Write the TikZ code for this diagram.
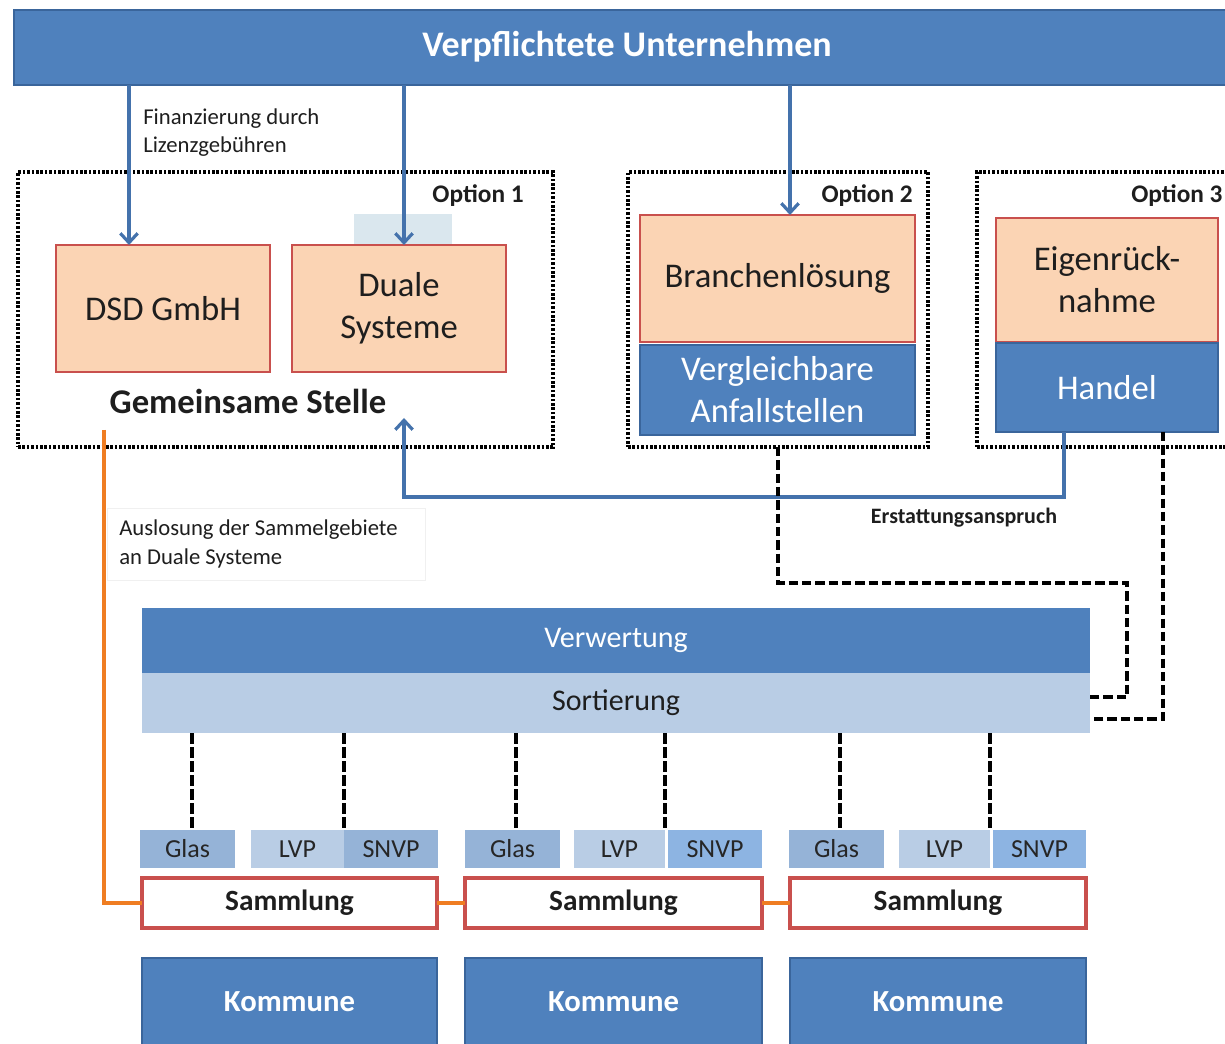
\documentclass[tikz,border=0pt]{standalone}
\usepackage{fontspec}
\setmainfont{Carlito}
\usetikzlibrary{arrows.meta,fit,calc}
\definecolor{ublue}{HTML}{4F81BD}
\definecolor{ubluedark}{HTML}{3A659B}
\definecolor{peach}{HTML}{FBD4B4}
\definecolor{ured}{HTML}{C9504D}
\definecolor{lblue}{HTML}{B9CDE5}
\definecolor{mblue}{HTML}{95B3D7}
\definecolor{sblue}{HTML}{8DB4E2}
\definecolor{arrowblue}{HTML}{4472AC}
\definecolor{uorange}{HTML}{EF7D22}
\definecolor{txt}{HTML}{1E1E1E}
\definecolor{paleblue}{HTML}{DAE7EE}
\begin{document}
\begin{tikzpicture}[x=0.75pt,y=-0.75pt,
  box/.style={inner sep=0pt, outer sep=0pt},
  bluebox/.style={box, fill=ublue, draw=ubluedark, line width=1.8pt},
  peachbox/.style={box, fill=peach, draw=ured, line width=2.2pt},
  optbox/.style={box, draw=black, line width=2.6pt, dash pattern=on 2pt off 1.3pt},
  optlabel/.style={font=\bfseries\fontsize{19}{22}\selectfont, text=txt, inner sep=0pt},
  tx/.style={inner sep=0pt, align=center, text=txt},
  wtx/.style={inner sep=0pt, align=center, text=white},
  bigtext/.style={font=\fontsize{26}{31.5}\selectfont},
  arrowline/.style={draw=arrowblue, line width=2.4pt, -{Straight Barb[length=7pt,width=13pt,line width=2.4pt]}},
  dashline/.style={draw=black, line width=3pt, dash pattern=on 7pt off 3pt},
  vdash/.style={draw=black, line width=2.8pt, dash pattern=on 8pt off 2.5pt},
  orangeline/.style={draw=uorange, line width=2.4pt},
  smalltext/.style={tx, font=\fontsize{19.5}{22}\selectfont, text=black!85},
  sammbox/.style={box, fill=white, draw=ured, line width=2.6pt},
  sammtext/.style={tx, font=\bfseries\fontsize{22}{26}\selectfont},
  kommbox/.style={box, fill=ublue, draw=ubluedark, line width=2.2pt},
  kommtext/.style={wtx, font=\bfseries\fontsize{23}{27}\selectfont},
  note/.style={inner sep=0pt, align=left, text=txt, font=\fontsize{17}{21.75}\selectfont}
]
\clip (0,0) rectangle (1225,1044);
\fill[white] (0,0) rectangle (1225,1044);

% option frames
\node[optbox, fit={(18,172)(553,447)}] (opt1) {};
\node[optbox, fit={(628,172)(928,447)}] (opt2) {};
\node[optbox, fit={(977,172)(1240,447)}] (opt3) {};
\node[optlabel, anchor=east] (ol1) at (524,196) {Option 1};
\node[optlabel, anchor=east] (ol2) at (913,196) {Option 2};
\node[optlabel, anchor=west] (ol3) at (1131,196) {Option 3};

% top bar
\node[bluebox, fit={(14,10)(1240,85)}] (top) {};
\node[wtx, font=\bfseries\fontsize{27}{32}\selectfont] (toptext) at (627,47) {Verpflichtete Unternehmen};

% option 1 contents
\node[box, fill=paleblue, fit={(354,214)(452,245)}] (pale) {};
\node[peachbox, fit={(56,245)(270,372)}] (dsd) {};
\node[tx, bigtext] (dsdt) at (dsd.center) {DSD GmbH};
\node[peachbox, fit={(292,245)(506,372)}] (duale) {};
\node[tx, bigtext] (dualet) at (duale.center) {Duale\\Systeme};
\node[tx, font=\bfseries\fontsize{26}{31}\selectfont] (gs) at (248,401) {Gemeinsame Stelle};

% option 2 contents
\node[peachbox, fit={(640,215)(915,342)}] (branch) {};
\node[tx, bigtext] (brancht) at (branch.center) {Branchenlösung};
\node[bluebox, fit={(640,345)(915,435)}] (vergl) {};
\node[wtx, bigtext] (verglt) at (vergl.center) {Vergleichbare\\Anfallstellen};

% option 3 contents
\node[peachbox, fit={(996,218)(1218,342)}] (eigen) {};
\node[tx, bigtext] (eigent) at (eigen.center) {Eigenrück-\\nahme};
\node[bluebox, fit={(996,343)(1218,432)}] (handel) {};
\node[wtx, bigtext] (handelt) at (handel.center) {Handel};

% arrows from top
\coordinate (a1) at (129,0);
\coordinate (a2) at (404,0);
\coordinate (a3) at (790,0);
\draw[arrowline] (a1 |- top.south) -- (a1 |- dsd.north);
\draw[arrowline] (a2 |- top.south) -- (a2 |- duale.north);
\draw[arrowline] (a3 |- top.south) -- (a3 |- branch.north);
\node[note, anchor=west, font=\fontsize{17}{21}\selectfont] (fin) at (143,133) {Finanzierung durch\\Lizenzgebühren};

% Erstattungsanspruch
\coordinate (e1) at (1064,0);
\coordinate (eb) at (404,497);
\coordinate (gsarrow) at (404,418);
\draw[arrowline] (e1 |- handel.south) |- (eb) -- (gsarrow);
\node[tx, font=\bfseries\fontsize{16.5}{20}\selectfont] (erst) at (964,518) {Erstattungsanspruch};

% Verwertung / Sortierung
\node[box, fill=ublue, fit={(142,608)(1090,673)}] (verw) {};
\node[wtx, font=\fontsize{22.5}{26}\selectfont] (verwt) at (verw.center) {Verwertung};
\node[box, fill=lblue, fit={(142,673)(1090,733)}] (sort) {};
\node[tx, font=\fontsize{22.5}{26}\selectfont] (sortt) at (sort.center) {Sortierung};

% dashed links from options 2 and 3
\coordinate (d1) at (1127,583);
\coordinate (d2) at (1090,697);
\coordinate (h1) at (1163,0);
\coordinate (d3) at (1090,719);
\draw[dashline] (opt2.south) |- (d1) |- (d2);
\draw[dashline] (h1 |- handel.south) |- (d3);

% label box
\node[box, fill=white, draw=black!6, line width=0.6pt, fit={(107,508)(425,580)}] (lblbox) {};
\node[note, anchor=west] (ausl) at (119,544) {Auslosung der Sammelgebiete\\an Duale Systeme};

% fractions
\node[box, fill=mblue, fit={(140,830)(235,868)}] (glas1) {};
\node[box, fill=lblue, fit={(251,830)(344,868)}] (lvp1) {};
\node[box, fill=mblue, fit={(344,830)(438,868)}] (snvp1) {};
\node[box, fill=mblue, fit={(465,830)(560,868)}] (glas2) {};
\node[box, fill=lblue, fit={(574,830)(665,868)}] (lvp2) {};
\node[box, fill=sblue, fit={(668,830)(762,868)}] (snvp2) {};
\node[box, fill=mblue, fit={(789,830)(884,868)}] (glas3) {};
\node[box, fill=lblue, fit={(899,830)(990,868)}] (lvp3) {};
\node[box, fill=sblue, fit={(993,830)(1086,868)}] (snvp3) {};
\foreach \n/\t in {glas1/Glas,lvp1/LVP,snvp1/SNVP,glas2/Glas,lvp2/LVP,snvp2/SNVP,glas3/Glas,lvp3/LVP,snvp3/SNVP}
  \node[smalltext] (\n t) at (\n.center) {\t};

% vertical dashed links
\coordinate (v1) at (192,0);
\coordinate (v3) at (516,0);
\coordinate (v5) at (840,0);
\draw[vdash] (v1 |- sort.south) -- (v1 |- glas1.north);
\draw[vdash] (lvp1.north east |- sort.south) -- (lvp1.north east);
\draw[vdash] (v3 |- sort.south) -- (v3 |- glas2.north);
\draw[vdash] (lvp2.north east |- sort.south) -- (lvp2.north east);
\draw[vdash] (v5 |- sort.south) -- (v5 |- glas3.north);
\draw[vdash] (lvp3.north east |- sort.south) -- (lvp3.north east);

% Sammlung
\node[sammbox, fit={(142,878)(437,928)}] (samm1) {};
\node[sammbox, fit={(465,878)(762,928)}] (samm2) {};
\node[sammbox, fit={(790,878)(1086,928)}] (samm3) {};
\foreach \n in {samm1,samm2,samm3}
  \node[sammtext] (\n t) at (\n.center) {Sammlung};

% orange connections
\coordinate (o1) at (104,430);
\draw[orangeline] (o1) |- (samm1.west);
\draw[orangeline] (samm1.east) -- (samm2.west);
\draw[orangeline] (samm2.east) -- (samm3.west);

% Kommune
\node[kommbox, fit={(142,958)(437,1050)}] (k1) {};
\node[kommbox, fit={(465,958)(762,1050)}] (k2) {};
\node[kommbox, fit={(790,958)(1086,1050)}] (k3) {};
\coordinate (kt1) at (289,1002);
\coordinate (kt2) at (613,1002);
\coordinate (kt3) at (938,1002);
\node[kommtext] (k1t) at (kt1 -| k1.center) {Kommune};
\node[kommtext] (k2t) at (kt2 -| k2.center) {Kommune};
\node[kommtext] (k3t) at (kt3 -| k3.center) {Kommune};
\end{tikzpicture}
\end{document}
